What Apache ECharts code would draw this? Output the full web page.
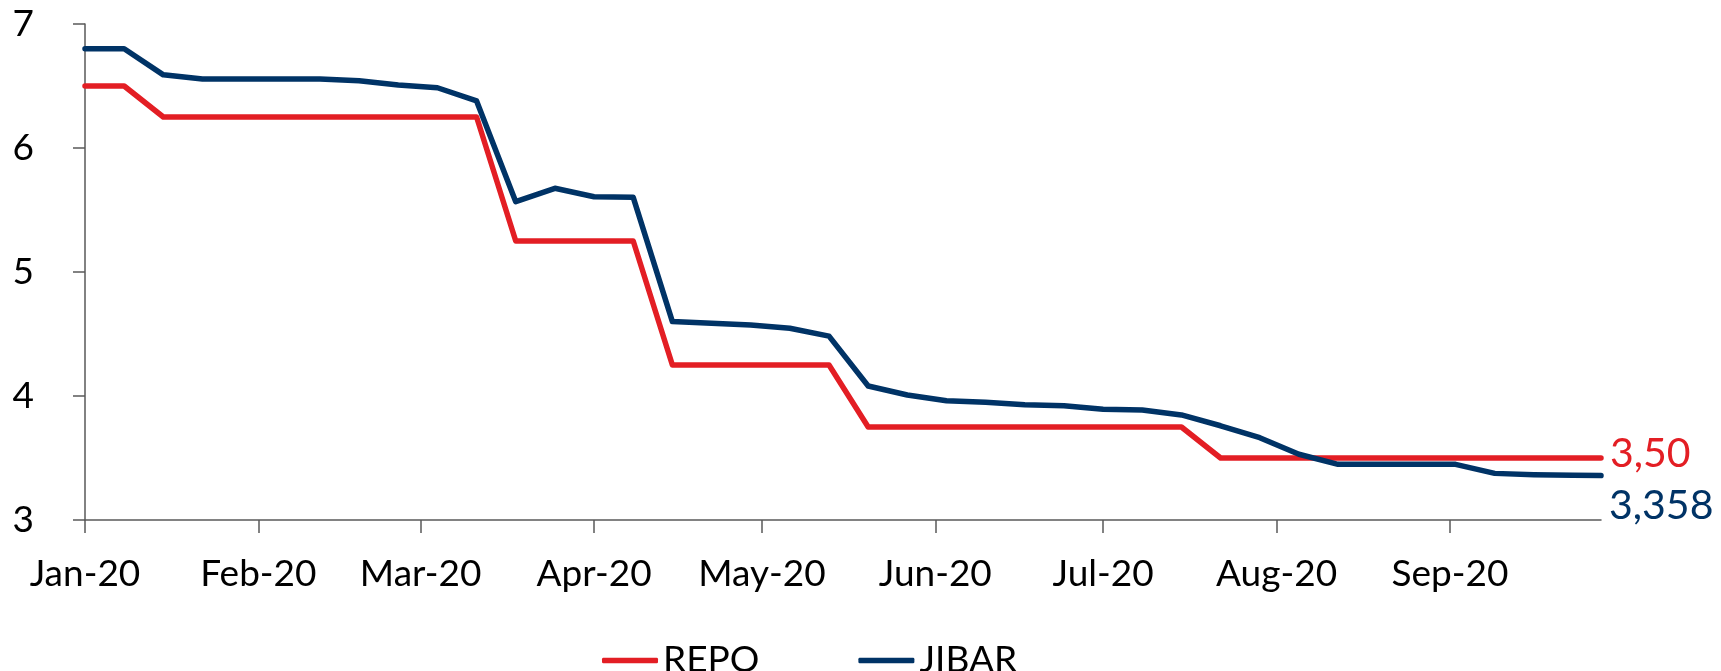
<!DOCTYPE html>
<html>
<head>
<meta charset="utf-8">
<script src="https://cdn.jsdelivr.net/npm/echarts@6/dist/echarts.min.js"></script>
<style>
html,body{margin:0;padding:0;background:#fff;}
#chart{width:1721px;height:671px;}
</style>
</head>
<body>
<div id="chart"></div>
<script>
// ---- data ----
const dates = [
  '2020-01-03','2020-01-10','2020-01-17','2020-01-24','2020-01-31',
  '2020-02-07','2020-02-14','2020-02-21','2020-02-28',
  '2020-03-06','2020-03-13','2020-03-20','2020-03-27',
  '2020-04-03','2020-04-10','2020-04-17','2020-04-24',
  '2020-05-01','2020-05-08','2020-05-15','2020-05-22','2020-05-29',
  '2020-06-05','2020-06-12','2020-06-19','2020-06-26',
  '2020-07-03','2020-07-10','2020-07-17','2020-07-24','2020-07-31',
  '2020-08-07','2020-08-14','2020-08-21','2020-08-28',
  '2020-09-04','2020-09-11','2020-09-18','2020-09-25','2020-09-30'
];
const repo = [
  6.50, 6.50, 6.25, 6.25, 6.25, 6.25, 6.25, 6.25, 6.25, 6.25,
  6.25, 5.25, 5.25, 5.25, 5.25, 4.25, 4.25, 4.25, 4.25, 4.25,
  3.75, 3.75, 3.75, 3.75, 3.75, 3.75, 3.75, 3.75, 3.75, 3.50,
  3.50, 3.50, 3.50, 3.50, 3.50, 3.50, 3.50, 3.50, 3.50, 3.50
];
const jibar = [
  6.800, 6.800, 6.590, 6.556, 6.556, 6.556, 6.556, 6.543, 6.508, 6.486,
  6.380, 5.567, 5.675, 5.607, 5.602, 4.600, 4.586, 4.573, 4.546, 4.483,
  4.081, 4.008, 3.962, 3.949, 3.930, 3.922, 3.893, 3.887, 3.847, 3.760,
  3.664, 3.530, 3.449, 3.449, 3.449, 3.449, 3.376, 3.365, 3.360, 3.358
];
const tickDates = ['2020-01-03','2020-02-03','2020-03-03','2020-04-03','2020-05-03','2020-06-03','2020-07-03','2020-08-03','2020-09-03'];
const tickLabels = ['Jan-20','Feb-20','Mar-20','Apr-20','May-20','Jun-20','Jul-20','Aug-20','Sep-20'];
const seriesNames = ['REPO', 'JIBAR'];
const endDecimals = [2, 3];

// ---- helpers ----
function ts(s){ const p = s.split('-').map(Number); return new Date(p[0], p[1]-1, p[2]).getTime(); }
const tickTs = tickDates.map(ts);
const FONT = 'Lato';
const RED = '#E31E24';
const BLUE = '#003366';
const AXIS = '#595959';

const chart = echarts.init(document.getElementById('chart'), null, {renderer:'canvas'});
function mk(vals){ return vals.map((v,i)=>[ts(dates[i]), v]); }
function fmt(v, d){ return v.toFixed(d).replace('.', ','); }

chart.setOption({
  animation: false,
  backgroundColor: '#fff',
  grid: { left: 85, right: 120, top: 24, bottom: 151, containLabel: false, outerBoundsMode: 'none' },
  legend: {
    data: seriesNames,
    left: 597, top: 637,
    icon: 'roundRect',
    itemWidth: 56, itemHeight: 5.5,
    itemGap: 99,
    textStyle: { fontFamily: FONT, fontSize: 37, color: '#000' }
  },
  xAxis: {
    type: 'value',
    min: ts(dates[0]),
    max: ts(dates[dates.length-1]),
    splitLine: { show: false },
    axisLine: { show: true, lineStyle: { color: AXIS, width: 1.5 } },
    axisTick: { show: true, inside: false, length: 13, lineStyle: { color: AXIS, width: 1.5 }, customValues: tickTs },
    axisLabel: {
      customValues: tickTs,
      margin: 36,
      fontFamily: FONT, fontSize: 37, color: '#000',
      formatter: function(v){ const i = tickTs.indexOf(v); return i >= 0 ? tickLabels[i] : ''; }
    }
  },
  yAxis: {
    type: 'value',
    min: 3, max: 7, interval: 1,
    splitLine: { show: false },
    axisLine: { show: true, lineStyle: { color: AXIS, width: 1.5 } },
    axisTick: { show: true, inside: false, length: 12, lineStyle: { color: AXIS, width: 1.5 } },
    axisLabel: { margin: 51, fontFamily: FONT, fontSize: 37, color: '#000' }
  },
  series: [
    {
      name: seriesNames[0], type: 'line', data: mk(repo), symbol: 'none',
      color: RED,
      lineStyle: { color: RED, width: 5.5, cap: 'round', join: 'round' },
      endLabel: { show: true, distance: 9, offset: [0, -4], fontFamily: FONT, fontSize: 41, color: RED,
        formatter: p => fmt(p.value[1], endDecimals[0]) }
    },
    {
      name: seriesNames[1], type: 'line', data: mk(jibar), symbol: 'none',
      color: BLUE,
      lineStyle: { color: BLUE, width: 5.5, cap: 'round', join: 'round' },
      endLabel: { show: true, distance: 8, offset: [0, 30], fontFamily: FONT, fontSize: 41, color: BLUE,
        formatter: p => fmt(p.value[1], endDecimals[1]) }
    }
  ]
});
</script>
</body>
</html>
